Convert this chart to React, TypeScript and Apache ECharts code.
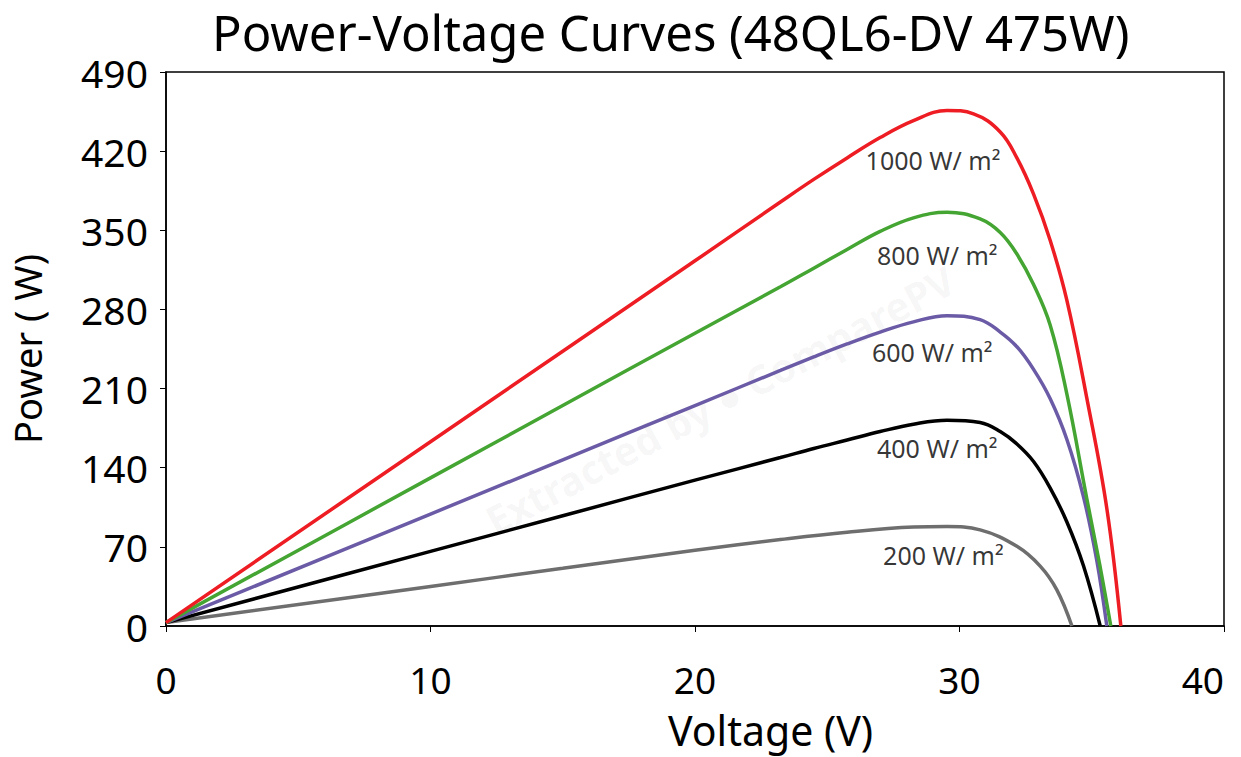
import React, { useEffect, useRef } from "react";
import * as echarts from "echarts";

// Voltage (V) / Power (W) readings per irradiance level
const voltage1000 = [0, 10, 15, 20, 23.23, 24.49, 25.75, 27.0, 28.26, 29.53, 30.53, 31.54, 32.17, 32.8, 33.43, 34.06, 34.81, 35.57, 36.1];
const power1000 = [3, 163, 243, 323, 375, 395, 414, 432, 447, 456, 453, 437, 414, 382, 341, 288, 202, 104, 0];

const voltage800 = [0, 10, 15, 20, 23.23, 24.49, 25.75, 27.0, 28.26, 29.53, 30.78, 31.54, 32.17, 32.8, 33.43, 34.06, 34.81, 35.32, 35.72];
const power800 = [3, 131, 195, 259, 300, 316.5, 333, 349, 361, 366, 360, 348, 329, 302, 266, 205, 113, 52, 0];

const voltage600 = [0, 10, 15, 20, 23.23, 24.49, 25.75, 27.0, 28.26, 29.53, 30.78, 31.54, 32.17, 32.8, 33.43, 34.06, 34.69, 35.19, 35.57];
const power600 = [3, 99, 147, 195, 226, 238, 249.5, 260, 269, 274.5, 271, 260, 247, 227, 201, 165, 114, 58, 0];

const voltage400 = [0, 10, 15, 20, 23.23, 24.49, 25.75, 27.0, 28.26, 29.53, 30.78, 31.54, 32.17, 32.8, 33.43, 34.06, 34.69, 35.32];
const power400 = [3, 66, 97.5, 129, 149, 157, 164.5, 172, 178.5, 182, 180, 172, 161, 145.5, 122, 92, 53, 0];

const voltage200 = [0, 10, 15, 20, 23.23, 25.75, 28.26, 29.53, 30.78, 32.17, 33.05, 33.68, 34.25];
const power200 = [3, 35, 51, 67, 76.5, 83, 87.5, 88, 85, 70.5, 53, 32, 0];

const seriesNames = ["1000 W/ m²", "800 W/ m²", "600 W/ m²", "400 W/ m²", "200 W/ m²"];
const seriesColors = ["#ee1c23", "#45a533", "#6b5ba6", "#000000", "#6e6e6e"];

// label anchor positions (V, W)
const labelVoltage = [29.0, 29.16, 28.97, 29.16, 29.39];
const labelPower = [412, 328, 242, 157, 63];

const xTicks = { min: 0, max: 40, interval: 10 };
const yTicks = { min: 0, max: 490, interval: 70 };

const FONT = "'Noto Sans', sans-serif";

export default function App() {
  const ref = useRef<HTMLDivElement>(null);

  useEffect(() => {
    if (!ref.current) return;
    const chart = echarts.init(ref.current, undefined, { renderer: "svg" });
    const vs = [voltage1000, voltage800, voltage600, voltage400, voltage200];
    const ps = [power1000, power800, power600, power400, power200];

    const lineSeries = vs.map((v, k) => ({
      name: seriesNames[k],
      type: "line",
      data: v.map((x, i) => [x, ps[k][i]]),
      smooth: 0.4,
      showSymbol: false,
      symbol: "none",
      lineStyle: { color: seriesColors[k], width: 3.5 },
      itemStyle: { color: seriesColors[k] },
      z: 5 - k,
    }));

    const labelSeries = {
      name: "labels",
      type: "scatter",
      symbolSize: 1,
      itemStyle: { color: "rgba(0,0,0,0)" },
      data: seriesNames.map((n, k) => ({ value: [labelVoltage[k], labelPower[k]], name: n })),
      label: {
        show: true,
        position: "inside",
        formatter: (p: any) => p.name,
        color: "#000",
        fontFamily: FONT,
        fontSize: 25,
      },
      silent: true,
      z: 10,
    };

    chart.setOption({
      animation: false,
      backgroundColor: "#ffffff",
      title: {
        text: "Power-Voltage Curves (48QL6-DV 475W)",
        left: 207,
        top: 2,
        textStyle: { fontFamily: FONT, fontSize: 49, fontWeight: "normal", color: "#000" },
      },
      grid: {
        left: 166,
        right: 17,
        top: 72,
        bottom: 131,
        outerBoundsMode: "none",
        containLabel: false,
        show: true,
        borderColor: "#000",
        borderWidth: 1.5,
        backgroundColor: "transparent",
      },
      xAxis: {
        type: "value",
        min: xTicks.min,
        max: xTicks.max,
        interval: xTicks.interval,
        axisLine: { show: true, lineStyle: { color: "#000", width: 1.5 } },
        axisTick: { show: true, length: 6, lineStyle: { color: "#000" } },
        splitLine: { show: false },
        axisLabel: {
          fontFamily: FONT,
          fontSize: 37,
          color: "#000",
          margin: 35,
          alignMaxLabel: "right",
        },
      },
      yAxis: {
        type: "value",
        min: yTicks.min,
        max: yTicks.max,
        interval: yTicks.interval,
        name: "Power ( W)",
        nameLocation: "middle",
        nameGap: 120,
        nameRotate: 90,
        nameTextStyle: { fontFamily: FONT, fontSize: 38, color: "#000" },
        axisLine: { show: true, lineStyle: { color: "#000", width: 1.5 } },
        axisTick: { show: true, length: 6, lineStyle: { color: "#000" } },
        splitLine: { show: false },
        axisLabel: { fontFamily: FONT, fontSize: 39, color: "#000", margin: 18 },
      },
      graphic: [
        {
          type: "text",
          left: 668,
          top: 709,
          style: { text: "Voltage (V)", fontFamily: FONT, fontSize: 41, fill: "#000" },
        },
        {
          type: "text",
          x: 720,
          y: 400,
          rotation: (28 * Math.PI) / 180,
          style: {
            text: "Extracted by ● ComparePV",
            fontFamily: FONT,
            fontSize: 40,
            fontWeight: "bold",
            fill: "rgba(0,0,0,0.045)",
            align: "center",
            verticalAlign: "middle",
          },
          z: 1,
        },
      ],
      series: [...lineSeries, labelSeries],
    });

    return () => chart.dispose();
  }, []);

  return (
    <div
      ref={ref}
      style={{ position: "fixed", left: 0, top: 0, width: 1241, height: 757, background: "#fff" }}
    />
  );
}
